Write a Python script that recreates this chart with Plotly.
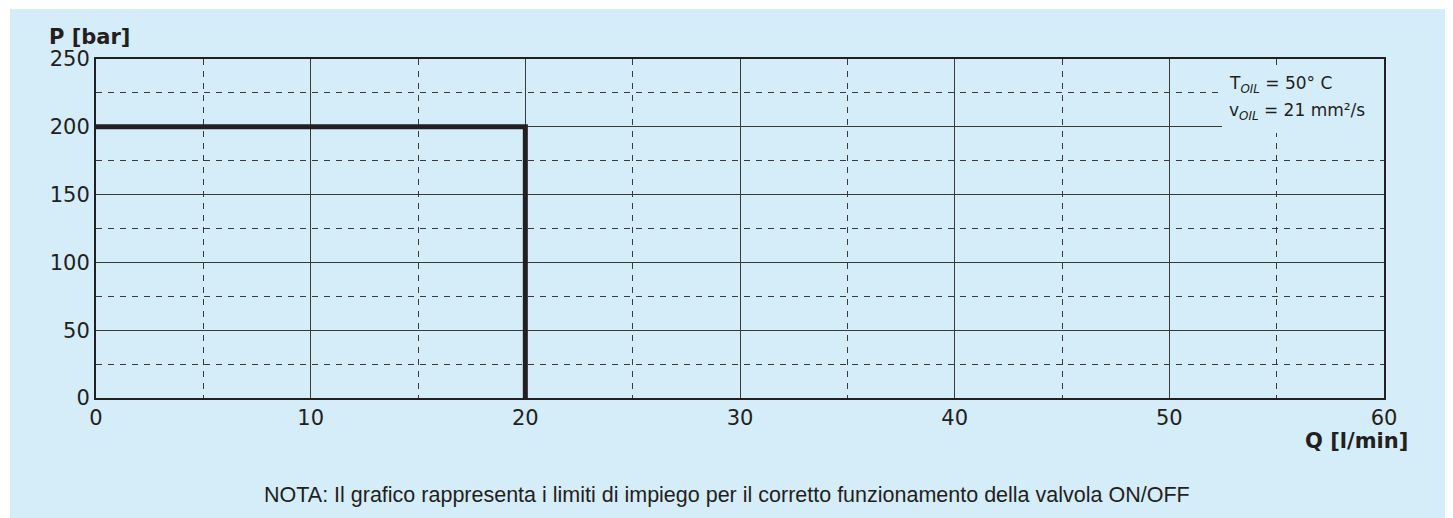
import plotly.graph_objects as go

# Data
q_flow = [0, 20, 20]          # l/min
p_press = [200, 200, 0]       # bar
x_ticks = [0, 10, 20, 30, 40, 50, 60]
y_ticks = [0, 50, 100, 150, 200, 250]

BG = "#d5ecf9"
INK = "#231f20"
W, H = 1453, 518
OFF = 8  # page body margin
# target plot area in screen pixels: x 96..1384, y 59..398
SX0, SX1, SY0, SY1 = 96, 1384, 59, 398
L = SX0 - OFF
T = SY0 - OFF
R = W - (SX1 - OFF)
B = H - (SY1 - OFF)
PW, PH = SX1 - SX0, SY1 - SY0

def px_x(p):
    return (p - SX0) / PW

def px_y(p):
    return (SY1 - p) / PH

def dx(p):
    return (p - SX0) / PW * 60

def dy(p):
    return (SY1 - p) / PH * 250

fig = go.Figure()
fig.add_trace(go.Scatter(x=q_flow, y=p_press, mode="lines",
                         line=dict(color=INK, width=5),
                         hoverinfo="skip", showlegend=False))

axis_common = dict(
    showline=True, linecolor=INK, linewidth=2, mirror=True,
    showgrid=True, gridcolor="#3a3a3a", gridwidth=1,
    ticks="", zeroline=False,
    tickfont=dict(family="DejaVu Sans", size=21, color=INK),
)

fig.update_xaxes(range=[0, 60], tickvals=x_ticks, **axis_common,
                 minor=dict(dtick=5, tick0=0, showgrid=True, gridcolor="#3a3a3a",
                            gridwidth=1, griddash="6px,6px"))
fig.update_yaxes(range=[0, 250], tickvals=y_ticks, **axis_common,
                 minor=dict(dtick=25, tick0=0, showgrid=True, gridcolor="#3a3a3a",
                            gridwidth=1, griddash="6px,6px"))

shapes = [
    dict(type="rect", xref="paper", yref="paper",
         x0=px_x(10), x1=px_x(W + 20), y0=px_y(H + 20), y1=px_y(9),
         fillcolor=BG, line=dict(width=0), layer="below"),
    dict(type="rect", xref="x", yref="y",
         x0=dx(1222), x1=60, y0=dy(133), y1=dy(68),
         fillcolor=BG, line=dict(width=0), layer="between"),
]

annotations = [
    dict(text="<b>P [bar]</b>", xref="paper", yref="paper",
         x=px_x(47), y=px_y(37), xanchor="left", yanchor="middle",
         showarrow=False, font=dict(family="DejaVu Sans", size=21, color=INK)),
    dict(text="<b>Q [l/min]</b>", xref="paper", yref="paper",
         x=px_x(1410), y=px_y(441), xanchor="right", yanchor="middle",
         showarrow=False, font=dict(family="DejaVu Sans", size=21, color=INK)),
    dict(text="T<sub><i>OIL</i></sub> = 50° C",
         xref="paper", yref="paper", x=px_x(1227), y=px_y(84),
         xanchor="left", yanchor="middle", align="left", showarrow=False,
         font=dict(family="DejaVu Sans", size=17, color=INK)),
    dict(text="v<sub><i>OIL</i></sub> = 21 mm²/s",
         xref="paper", yref="paper", x=px_x(1227), y=px_y(111),
         xanchor="left", yanchor="middle", align="left", showarrow=False,
         font=dict(family="DejaVu Sans", size=17, color=INK)),
    dict(text="NOTA: Il grafico rappresenta i limiti di impiego per il corretto funzionamento della valvola ON/OFF",
         xref="paper", yref="paper", x=px_x(727), y=px_y(495),
         xanchor="center", yanchor="middle", showarrow=False,
         font=dict(family="Liberation Sans", size=21.5, color=INK)),
]

fig.update_layout(
    width=W, height=H,
    margin=dict(l=L, r=R, t=T, b=B),
    paper_bgcolor="white", plot_bgcolor="rgba(0,0,0,0)",
    shapes=shapes, annotations=annotations, showlegend=False,
)

fig.write_html("out.html")
